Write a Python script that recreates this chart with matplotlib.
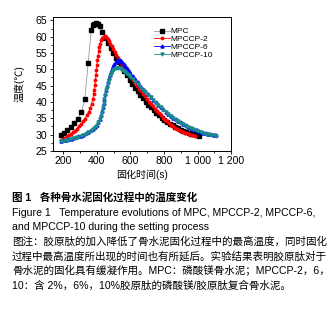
import numpy as np
import matplotlib
matplotlib.use("Agg")
import matplotlib.pyplot as plt
from matplotlib.ticker import MultipleLocator

plt.rcParams['font.family'] = ['Liberation Sans', 'Noto Sans CJK SC', 'DejaVu Sans']

# ---- data ----
mpc_t = [185, 205, 225, 245, 265, 287, 309, 329, 349, 367, 377, 385, 393, 401, 409, 417,
         433, 451, 467, 483, 499, 515, 531, 547, 563, 579, 595, 611, 627, 643, 659, 675,
         691, 707, 723, 739, 755, 771, 787, 803, 819, 835, 851, 867, 883, 899, 915, 931,
         947, 963, 979, 995, 1011]
mpc_temp = [30.0, 30.6, 31.4, 32.4, 33.4, 34.8, 36.9, 40.8, 52.0, 62.0, 63.5, 64.0, 64.1, 64.0, 63.8, 63.3,
            61.5, 59.6, 58.0, 56.5, 55.0, 53.6, 52.2, 50.9, 49.5, 48.1, 46.8, 45.5, 44.3, 43.2, 42.1, 41.1,
            40.1, 39.2, 38.3, 37.5, 36.7, 35.9, 35.2, 34.5, 33.9, 33.3, 32.8, 32.3, 31.9, 31.5, 31.1, 30.8,
            30.5, 30.3, 30.1, 29.9, 29.7]

cp2_t = [185, 197, 209, 221, 233, 245, 257, 269, 281, 293, 305, 317, 329, 341, 351, 361,
         369, 376, 381, 385, 389, 392, 395, 398, 401, 404, 407, 411, 415, 420, 426, 433,
         441, 449, 457, 465, 473, 481, 489, 497, 507, 517, 527, 537, 547, 557, 567, 577,
         589, 601, 613, 625, 637, 649, 661, 673, 685, 697, 709, 721, 733, 745, 757, 769,
         781, 793, 805, 817, 829, 841, 853, 865, 877, 889, 901, 913, 925, 937, 949, 961,
         973, 985]
cp2_temp = [28.4, 28.7, 29.0, 29.4, 29.8, 30.2, 30.7, 31.2, 31.8, 32.5, 33.2, 34.0, 34.9, 35.9, 36.9, 38.1,
            39.4, 40.8, 42.3, 43.8, 45.3, 46.8, 48.3, 49.8, 51.3, 52.8, 54.2, 55.6, 56.8, 57.9, 58.9, 59.6,
            60.0, 60.1, 59.8, 59.3, 58.6, 57.8, 57.0, 56.2, 55.3, 54.4, 53.5, 52.6, 51.8, 51.0, 50.2, 49.4,
            48.5, 47.6, 46.7, 45.8, 45.0, 44.1, 43.3, 42.5, 41.7, 40.9, 40.1, 39.4, 38.6, 37.9, 37.2, 36.5,
            35.9, 35.2, 34.6, 34.0, 33.5, 33.0, 32.5, 32.1, 31.8, 31.5, 31.2, 30.9, 30.6, 30.4, 30.2, 30.0,
            29.9, 29.7]

cp6_t = [185, 200, 215, 230, 245, 260, 275, 290, 305, 320, 335, 350, 365, 378, 390, 400,
         409, 417, 424, 430, 436, 441, 446, 451, 456, 461, 466, 471, 477, 483, 490, 497,
         505, 513, 521, 529, 537, 545, 553, 561, 570, 580, 590, 600, 615, 630, 645, 660,
         675, 690, 705, 720, 735, 750, 765, 780, 795, 810, 825, 840, 855, 870, 885, 900,
         915, 930, 945, 960, 975, 990, 1005, 1020, 1035, 1050, 1065, 1080, 1095, 1110]
cp6_temp = [28.1, 28.2, 28.3, 28.5, 28.7, 28.9, 29.1, 29.4, 29.7, 30.0, 30.4, 30.8, 31.3, 31.8, 32.4, 33.0,
            33.8, 34.8, 35.9, 37.1, 38.4, 39.7, 41.0, 42.3, 43.6, 44.9, 46.1, 47.2, 48.3, 49.3, 50.2, 51.0,
            51.7, 52.3, 52.7, 52.9, 52.8, 52.5, 52.1, 51.6, 51.0, 50.3, 49.6, 48.9, 47.9, 46.9, 46.0, 45.0,
            44.1, 43.2, 42.3, 41.5, 40.7, 39.9, 39.1, 38.4, 37.7, 37.0, 36.4, 35.8, 35.2, 34.7, 34.2, 33.7,
            33.2, 32.8, 32.4, 32.0, 31.7, 31.4, 31.1, 30.8, 30.6, 30.4, 30.2, 30.1, 29.9, 29.8]

cp10_t = cp6_t
cp10_temp = [28.0, 28.1, 28.2, 28.4, 28.6, 28.8, 29.0, 29.3, 29.6, 29.9, 30.3, 30.7, 31.2, 31.7, 32.3, 32.9,
             33.7, 34.7, 35.8, 37.0, 38.3, 39.6, 40.9, 42.2, 43.5, 44.7, 45.8, 46.8, 47.8, 48.6, 49.3, 49.8,
             50.1, 50.3, 50.4, 50.4, 50.3, 50.1, 49.8, 49.5, 49.1, 48.6, 48.1, 47.6, 46.9, 46.2, 45.4, 44.6,
             43.8, 43.0, 42.2, 41.4, 40.6, 39.8, 39.0, 38.3, 37.6, 36.9, 36.3, 35.7, 35.1, 34.6, 34.1, 33.6,
             33.1, 32.7, 32.3, 31.9, 31.6, 31.3, 31.0, 30.7, 30.5, 30.3, 30.1, 30.0, 29.8, 29.7]

series_labels = ["MPC", "MPCCP-2", "MPCCP-6", "MPCCP-10"]
x_ticks = [200, 400, 600, 800, 1000, 1200]
x_ticklabels = ["200", "400", "600", "800", "1 000", "1 200"]
y_ticks = [25, 30, 35, 40, 45, 50, 55, 60, 65]

caption_lines = [
    "Figure 1   Temperature evolutions of MPC, MPCCP-2, MPCCP-6,",
    "and MPCCP-10 during the setting process",
    "图注：胶原肽的加入降低了骨水泥固化过程中的最高温度，同时固化",
    "过程中最高温度所出现的时间也有所延后。实验结果表明胶原肽对于",
    "骨水泥的固化具有缓凝作用。MPC：磷酸镁骨水泥；MPCCP-2，6，",
    "10：含 2%，6%，10%胶原肽的磷酸镁/胶原肽复合骨水泥。",
]

fig = plt.figure(figsize=(3.36, 3.11), dpi=100)
ax = fig.add_axes([0.158, 0.515, 0.53, 0.43])

ax.plot(mpc_t, mpc_temp, color="#9a9a9a", lw=0.6, marker="s", ms=3.2,
        mfc="black", mec="black", label=series_labels[0])
ax.plot(cp2_t, cp2_temp, color="red", lw=0.6, marker="o", ms=1.8,
        mfc="red", mec="red", label=series_labels[1])
ax.plot(cp6_t, cp6_temp, color="blue", lw=0.6, marker="^", ms=2.2,
        mfc="blue", mec="blue", label=series_labels[2])
ax.plot(cp10_t, cp10_temp, color="#1a8a8a", lw=0.6, marker="v", ms=2.2,
        mfc="#1a8a8a", mec="#1a8a8a", label=series_labels[3])

ax.set_xlim(140, 1200)
ax.set_ylim(25, 66)
ax.set_xticks(x_ticks)
ax.set_xticklabels(x_ticklabels)
ax.set_yticks(y_ticks)
ax.xaxis.set_minor_locator(MultipleLocator(100))
ax.yaxis.set_minor_locator(MultipleLocator(2.5))
ax.tick_params(which="both", direction="out", labelsize=7.6, width=0.6, pad=1.5)
ax.tick_params(which="major", length=2.5)
ax.tick_params(which="minor", length=1.5)
for sp in ax.spines.values():
    sp.set_linewidth(0.7)

ax.set_xlabel("固化时间(s)", fontsize=7.2, labelpad=2)
ax.set_ylabel("温度(℃)", fontsize=7.2, labelpad=8)

leg = ax.legend(loc="upper right", bbox_to_anchor=(0.93, 0.965), frameon=False,
                fontsize=6.0, handlelength=1.9, handletextpad=0.05,
                labelspacing=0.0, borderpad=0.2)

fig.text(0.035, 0.365, "图 1   各种骨水泥固化过程中的温度变化", fontsize=7.6,
         weight="bold", va="center")
y0 = 0.315
for i, line in enumerate(caption_lines):
    fig.text(0.035, y0 - i * 0.0465, line, fontsize=7.6, va="center")

fig.savefig("out.png", dpi=100)
